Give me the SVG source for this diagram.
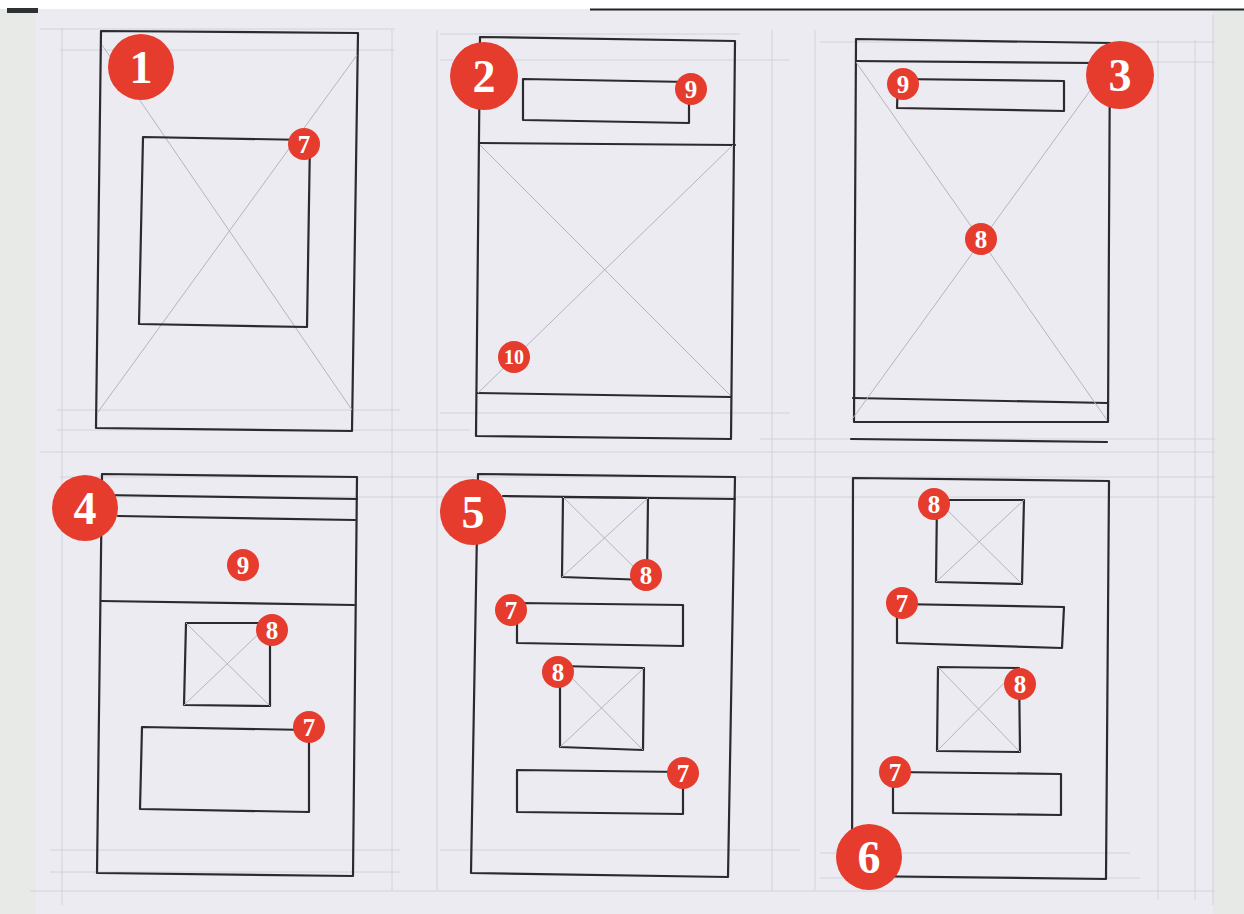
<svg xmlns="http://www.w3.org/2000/svg" width="1244" height="914" viewBox="0 0 1244 914">
<style>
.w{fill:none;stroke:#2b2b2e;stroke-width:2.2;stroke-linecap:round;stroke-linejoin:round}
.d{fill:none;stroke:#b4b4bc;stroke-width:1}
.g{fill:none;stroke:#cfcfd7;stroke-width:0.9}
.bb{fill:#e63c2e}
.bt{fill:#ffffff;font-family:"Liberation Serif","DejaVu Serif",serif;font-weight:bold;text-anchor:middle}
.big{font-size:46px}
.sm{font-size:25px}
</style>
<rect x="0" y="0" width="1244" height="914" fill="#ecebf2"/>
<rect x="0" y="0" width="36" height="914" fill="#e7eae6"/>
<rect x="1213" y="0" width="31" height="914" fill="#e7e9e6"/>
<rect x="0" y="0" width="1244" height="9" fill="#ffffff"/>
<rect x="7" y="8" width="31" height="5" fill="#2e3133"/>
<line x1="590" y1="9.5" x2="1244" y2="9.5" stroke="#1f2224" stroke-width="2"/>
<g id="guides">
<path class="g" d="M40 29H395M60 50H395M57 410H400M57 430H470M440 34H740M440 60H790M820 42H1215M860 62H1215M440 413H790M760 439H1215M40 452H1215M60 477H1215M60 497H1215M50 850H400M50 872H400M30 891H1215M440 850H800M820 853H1130M820 878H1140"/>
<path class="g" d="M62 28V905M392 30V890M437 30V890M772 30V890M815 30V890M1158 40V900M1195 40V900M1213 15V905"/>
</g>
<g id="panel1">
<path class="w" d="M101 31L358 33L352 431L96 428Z"/>
<path class="d" d="M102 45L352 410M357 55L98 412"/>
<path class="w" d="M143 137L310 140L307 327L139 324Z"/>
</g>
<g id="panel2">
<path class="w" d="M480 37L735 41L731 439L476 436Z"/>
<path class="w" d="M479 143L735 145M477 393L731 397"/>
<path class="w" d="M523 79L689 82L689 123L523 120Z"/>
<path class="d" d="M480 145L730 395M733 145L478 393"/>
</g>
<g id="panel3">
<path class="w" d="M856 39L1110 43L1108 422L854 422Z"/>
<path class="w" d="M856 61L1092 63M853 398L1107 403M851 439L1107 442"/>
<path class="w" d="M898 79L1064 81L1064 111L897 108Z"/>
<path class="d" d="M856 62L1107 420M1092 88L853 418"/>
</g>
<g id="panel4">
<path class="w" d="M102 474L357 477L353 876L97 873Z"/>
<path class="w" d="M102 495L357 499M118 516L355 520M101 601L354 605"/>
<path class="w" d="M186 623L270 623L270 706L184 705Z"/>
<path class="d" d="M186 623L270 706M270 623L184 705"/>
<path class="w" d="M142 727L309 730L309 812L140 809Z"/>
</g>
<g id="panel5">
<path class="w" d="M478 474L735 477L728 877L471 873Z"/>
<path class="w" d="M503 496L735 499"/>
<path class="w" d="M563 497L648 498L647 580L562 577Z"/>
<path class="d" d="M563 497L647 580M648 498L562 577"/>
<path class="w" d="M517 603L683 605L683 646L517 643Z"/>
<path class="w" d="M560 666L644 668L643 750L560 747Z"/>
<path class="d" d="M560 666L643 750M644 668L560 747"/>
<path class="w" d="M517 770L683 772L683 814L517 812Z"/>
</g>
<g id="panel6">
<path class="w" d="M853 478L1109 481L1106 879L852 876Z"/>
<path class="w" d="M937 500L1024 500L1022 584L936 582Z"/>
<path class="d" d="M937 500L1022 584M1024 500L936 582"/>
<path class="w" d="M897 604L1064 607L1062 648L897 643Z"/>
<path class="w" d="M938 667L1019 668L1020 752L937 751Z"/>
<path class="d" d="M938 667L1020 752M1019 668L937 751"/>
<path class="w" d="M893 772L1061 774L1061 815L893 813Z"/>
</g>
<g id="badges">
<g id="b1"><circle class="bb" cx="141" cy="67" r="33"/><text class="bt big" x="141" y="83">1</text></g>
<g id="b2"><circle class="bb" cx="484" cy="76" r="34"/><text class="bt big" x="484" y="92">2</text></g>
<g id="b3"><circle class="bb" cx="1120" cy="75" r="34"/><text class="bt big" x="1120" y="91">3</text></g>
<g id="b4"><circle class="bb" cx="85" cy="508" r="33"/><text class="bt big" x="85" y="524">4</text></g>
<g id="b5"><circle class="bb" cx="473" cy="512" r="33"/><text class="bt big" x="473" y="528">5</text></g>
<g id="b6"><circle class="bb" cx="869" cy="857" r="33"/><text class="bt big" x="869" y="873">6</text></g>
<g id="p1-7"><circle class="bb" cx="304" cy="144" r="16"/><text class="bt sm" x="304" y="153">7</text></g>
<g id="p2-9"><circle class="bb" cx="691" cy="89" r="16"/><text class="bt sm" x="691" y="98">9</text></g>
<g id="p2-10"><circle class="bb" cx="514" cy="357" r="16"/><text class="bt" style="font-size:20px" x="514" y="364">10</text></g>
<g id="p3-9"><circle class="bb" cx="903" cy="84" r="16"/><text class="bt sm" x="903" y="93">9</text></g>
<g id="p3-8"><circle class="bb" cx="981" cy="239" r="16"/><text class="bt sm" x="981" y="248">8</text></g>
<g id="p4-9"><circle class="bb" cx="243" cy="565" r="16"/><text class="bt sm" x="243" y="574">9</text></g>
<g id="p4-8"><circle class="bb" cx="272" cy="630" r="16"/><text class="bt sm" x="272" y="639">8</text></g>
<g id="p4-7"><circle class="bb" cx="309" cy="727" r="16"/><text class="bt sm" x="309" y="736">7</text></g>
<g id="p5-8a"><circle class="bb" cx="646" cy="575" r="16"/><text class="bt sm" x="646" y="584">8</text></g>
<g id="p5-7a"><circle class="bb" cx="511" cy="610" r="16"/><text class="bt sm" x="511" y="619">7</text></g>
<g id="p5-8b"><circle class="bb" cx="558" cy="672" r="16"/><text class="bt sm" x="558" y="681">8</text></g>
<g id="p5-7b"><circle class="bb" cx="683" cy="773" r="16"/><text class="bt sm" x="683" y="782">7</text></g>
<g id="p6-8a"><circle class="bb" cx="934" cy="504" r="16"/><text class="bt sm" x="934" y="513">8</text></g>
<g id="p6-7a"><circle class="bb" cx="902" cy="603" r="16"/><text class="bt sm" x="902" y="612">7</text></g>
<g id="p6-8b"><circle class="bb" cx="1020" cy="684" r="16"/><text class="bt sm" x="1020" y="693">8</text></g>
<g id="p6-7b"><circle class="bb" cx="895" cy="772" r="16"/><text class="bt sm" x="895" y="781">7</text></g>
</g>
</svg>
